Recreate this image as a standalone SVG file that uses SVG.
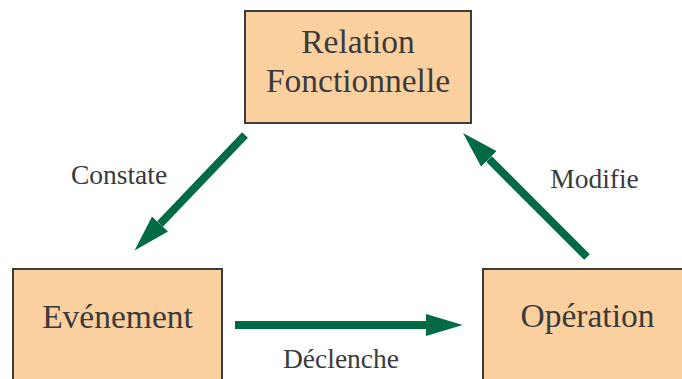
<svg xmlns="http://www.w3.org/2000/svg" width="682" height="379" viewBox="0 0 682 379">
<defs>
<style>
.box{fill:#FBD09F;stroke:#3d3d3f;stroke-width:2}
.t{font-family:"Liberation Serif","Times New Roman",serif;font-size:33.5px;fill:#3a3a3c;text-anchor:middle}
.l{font-family:"Liberation Serif","Times New Roman",serif;font-size:27.5px;fill:#3a3a3c;text-anchor:middle}
.arr{stroke:#006B45;stroke-width:8;fill:none;marker-end:url(#ah)}
</style>
<marker id="ah" viewBox="0 0 10 6" refX="0" refY="3" markerWidth="4.6" markerHeight="3" orient="auto" markerUnits="strokeWidth">
<path d="M0,0 L10,3 L0,6 Z" fill="#006B45"/>
</marker>
</defs>
<rect width="682" height="379" fill="#ffffff"/>
<g id="relation">
<rect class="box" x="245" y="11" width="226" height="112"/>
<text class="t" x="358" y="53">Relation</text>
<text class="t" x="358" y="92">Fonctionnelle</text>
</g>
<g id="evenement">
<rect class="box" x="13" y="269" width="209" height="130"/>
<text class="t" x="117.5" y="328">Evénement</text>
</g>
<g id="operation">
<rect class="box" x="483" y="269" width="220" height="130"/>
<text class="t" x="587.5" y="327">Opération</text>
</g>
<g id="connectors">
<line class="arr" x1="245" y1="135" x2="160" y2="224"/>
<line class="arr" x1="587" y1="257" x2="489" y2="159"/>
<line class="arr" x1="235" y1="325" x2="426" y2="325"/>
</g>
<g id="labels">
<text class="l" x="119" y="184">Constate</text>
<text class="l" x="594.5" y="188">Modifie</text>
<text class="l" x="341" y="368">Déclenche</text>
</g>
</svg>
